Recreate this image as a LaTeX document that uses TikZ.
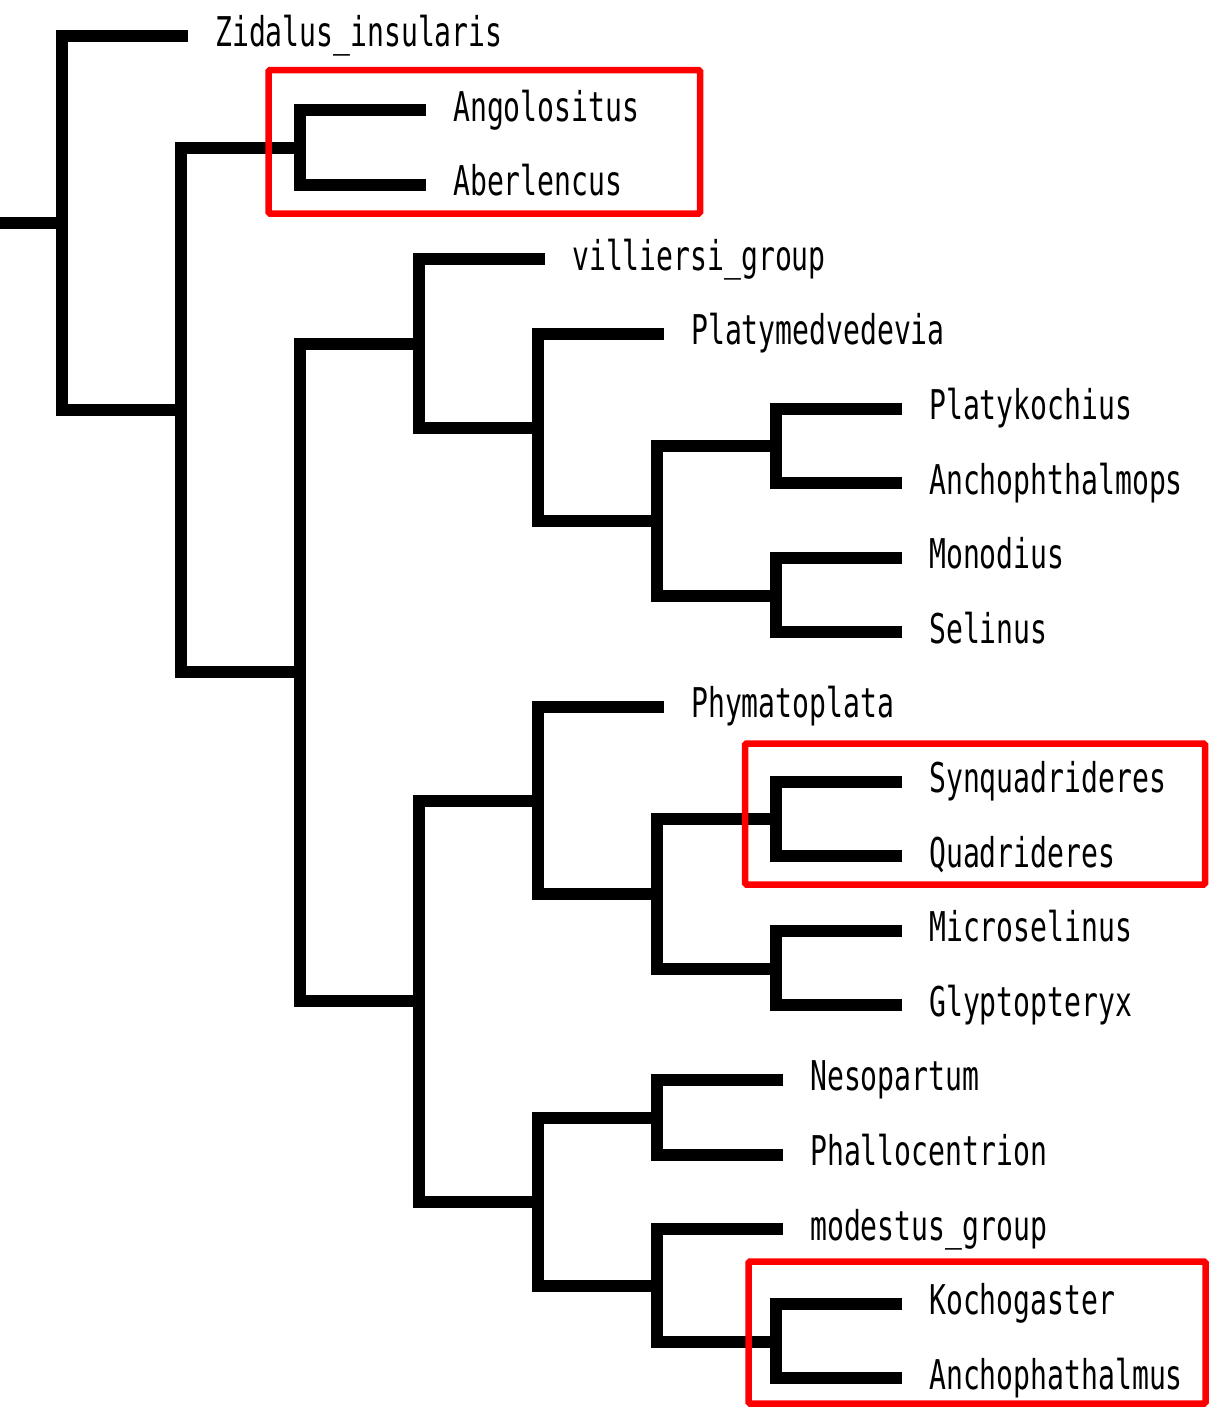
\documentclass[tikz,border=0pt]{standalone}
\usepackage{fontspec}
\newfontfamily\treefont[FakeStretch=0.685]{DejaVu Sans Mono}
\begin{document}
\begin{tikzpicture}[x=1pt,y=-1pt,
  br/.style={line width=12pt, line join=miter, line cap=butt},
  lab/.style={anchor=base west, inner sep=0pt, xshift=27pt, yshift=-11pt,
              font=\treefont\fontsize{41}{41}\selectfont},
  redbox/.style={draw=red, line width=6.5pt, rounded corners=1.5pt}]
\useasboundingbox (0,0) rectangle (1209,1409);
% internal nodes
\coordinate (stub) at (0,223.1);
\coordinate (root) at (62,223.1);
\coordinate (B) at (181,410.15);
\coordinate (A) at (300,147.9);
\coordinate (C) at (300,672.4);
\coordinate (D) at (419,343.7);
\coordinate (E) at (538,427.65);
\coordinate (F) at (657,520.9);
\coordinate (G) at (776,446.3);
\coordinate (H) at (776,595.5);
\coordinate (I) at (419,1001.1);
\coordinate (J) at (538,800.65);
\coordinate (K) at (657,893.9);
\coordinate (L) at (776,819.3);
\coordinate (M) at (776,968.5);
\coordinate (N) at (538,1201.6);
\coordinate (O) at (657,1117.7);
\coordinate (P) at (657,1285.55);
\coordinate (Q) at (776,1341.5);
% leaf tips
\coordinate (t0) at (188,35.5);
\coordinate (t1) at (426,110.1);
\coordinate (t2) at (426,184.7);
\coordinate (t3) at (545,259.3);
\coordinate (t4) at (664,333.9);
\coordinate (t5) at (902,408.5);
\coordinate (t6) at (902,483.1);
\coordinate (t7) at (902,557.7);
\coordinate (t8) at (902,632.3);
\coordinate (t9) at (664,706.9);
\coordinate (t10) at (902,781.5);
\coordinate (t11) at (902,856.1);
\coordinate (t12) at (902,930.7);
\coordinate (t13) at (902,1005.3);
\coordinate (t14) at (783,1079.9);
\coordinate (t15) at (783,1154.5);
\coordinate (t16) at (783,1229.1);
\coordinate (t17) at (902,1303.7);
\coordinate (t18) at (902,1378.3);
% labels
\node[lab] (n0) at (t0) {Zidalus\_insularis};
\node[lab] (n1) at (t1) {Angolositus};
\node[lab] (n2) at (t2) {Aberlencus};
\node[lab] (n3) at (t3) {villiersi\_group};
\node[lab] (n4) at (t4) {Platymedvedevia};
\node[lab] (n5) at (t5) {Platykochius};
\node[lab] (n6) at (t6) {Anchophthalmops};
\node[lab] (n7) at (t7) {Monodius};
\node[lab] (n8) at (t8) {Selinus};
\node[lab] (n9) at (t9) {Phymatoplata};
\node[lab] (n10) at (t10) {Synquadrideres};
\node[lab] (n11) at (t11) {Quadrideres};
\node[lab] (n12) at (t12) {Microselinus};
\node[lab] (n13) at (t13) {Glyptopteryx};
\node[lab] (n14) at (t14) {Nesopartum};
\node[lab] (n15) at (t15) {Phallocentrion};
\node[lab] (n16) at (t16) {modestus\_group};
\node[lab] (n17) at (t17) {Kochogaster};
\node[lab] (n18) at (t18) {Anchophathalmus};
% branches
\draw[br] (stub) -- (root);
\draw[br] (root) |- (t0);
\draw[br] (root) |- (B);
\draw[br] (B) |- (A);
\draw[br] (B) |- (C);
\draw[br] (A) |- (t1);
\draw[br] (A) |- (t2);
\draw[br] (C) |- (D);
\draw[br] (C) |- (I);
\draw[br] (D) |- (t3);
\draw[br] (D) |- (E);
\draw[br] (E) |- (t4);
\draw[br] (E) |- (F);
\draw[br] (F) |- (G);
\draw[br] (F) |- (H);
\draw[br] (G) |- (t5);
\draw[br] (G) |- (t6);
\draw[br] (H) |- (t7);
\draw[br] (H) |- (t8);
\draw[br] (I) |- (J);
\draw[br] (I) |- (N);
\draw[br] (J) |- (t9);
\draw[br] (J) |- (K);
\draw[br] (K) |- (L);
\draw[br] (K) |- (M);
\draw[br] (L) |- (t10);
\draw[br] (L) |- (t11);
\draw[br] (M) |- (t12);
\draw[br] (M) |- (t13);
\draw[br] (N) |- (O);
\draw[br] (N) |- (P);
\draw[br] (O) |- (t14);
\draw[br] (O) |- (t15);
\draw[br] (P) |- (t16);
\draw[br] (P) |- (Q);
\draw[br] (Q) |- (t17);
\draw[br] (Q) |- (t18);
% highlight boxes
\draw[redbox] (268.5,70) rectangle (700,213.5);
\draw[redbox] (745,743.5) rectangle (1205,884.5);
\draw[redbox] (748.5,1261.5) rectangle (1205.5,1403.5);
\end{tikzpicture}
\end{document}
